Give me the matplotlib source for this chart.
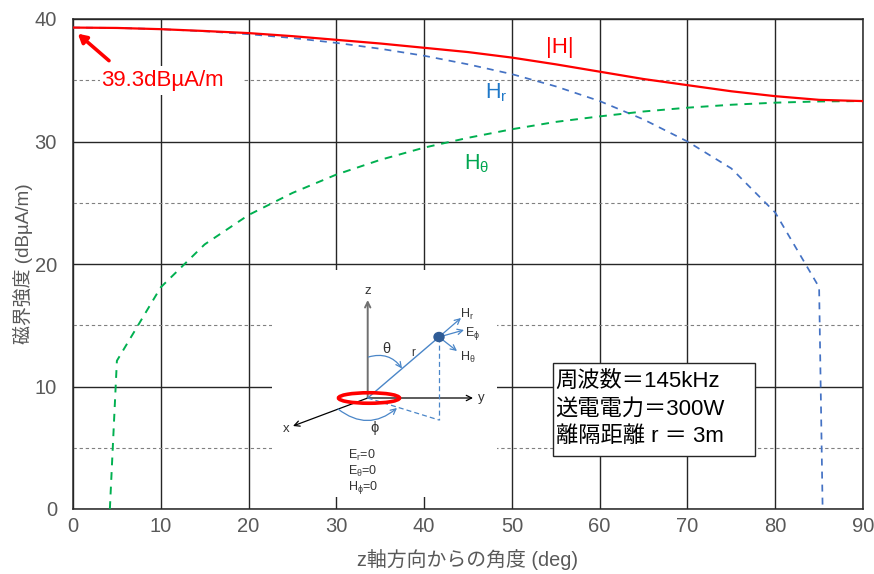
import numpy as np
import matplotlib
matplotlib.use('Agg')
import matplotlib.pyplot as plt
from matplotlib.patches import Ellipse, FancyArrowPatch, Rectangle

plt.rcParams['font.family'] = ['Liberation Sans', 'Noto Sans CJK JP', 'DejaVu Sans']
plt.rcParams['mathtext.fontset'] = 'custom'
plt.rcParams['mathtext.rm'] = 'Liberation Sans'

angle_h = [0, 5, 10, 15, 20, 25, 30, 35, 40, 45, 50, 55, 60, 65, 70, 75, 80, 85, 90]
h_total = [39.3, 39.27, 39.17, 39.02, 38.85, 38.6, 38.3, 38.0, 37.65, 37.3, 36.85, 36.3,
           35.7, 35.1, 34.6, 34.1, 33.7, 33.4, 33.3]

angle_r = [0, 5, 10, 15, 20, 25, 30, 35, 40, 45, 50, 55, 60, 65, 70, 75, 80, 85, 85.4]
h_r = [39.3, 39.27, 39.17, 39.0, 38.76, 38.45, 38.05, 37.57, 37.0, 36.3, 35.5, 34.5,
       33.3, 31.8, 30.0, 27.8, 24.2, 18.1, 0]

angle_t = [4.2, 5, 10, 15, 20, 25, 30, 35, 40, 45, 50, 55, 60, 65, 70, 75, 80, 85, 90]
h_t = [0, 12.1, 18.1, 21.6, 24.0, 25.8, 27.3, 28.5, 29.5, 30.3, 31.0, 31.6,
       32.05, 32.45, 32.76, 33.0, 33.17, 33.27, 33.3]

x_ticks = [0, 10, 20, 30, 40, 50, 60, 70, 80, 90]
y_ticks = [0, 10, 20, 30, 40]
y_minor = [5, 15, 25, 35]

W, H = 874, 574
fig = plt.figure(figsize=(W / 100, H / 100), dpi=100)
ax = fig.add_axes([73 / W, 1 - 509 / H, 790 / W, 490 / H])

ax.set_xlim(0, 90)
ax.set_ylim(0, 40)
ax.set_xticks(x_ticks)
ax.set_yticks(y_ticks)
ax.set_yticks(y_minor, minor=True)
ax.tick_params(which='both', length=0)
ax.tick_params(axis='both', labelsize=14.5, labelcolor='#595959')
ax.tick_params(axis='x', pad=6)
ax.tick_params(axis='y', pad=11.5)
ax.grid(True, which='major', color='#262626', lw=1.0, zorder=1)
ax.grid(True, which='minor', axis='y', color='#808080', lw=0.8, ls=(0, (3, 2.5)), zorder=1)
ax.set_axisbelow(True)
for s in ax.spines.values():
    s.set_color('#262626')
    s.set_linewidth(1.1)
ax.set_xlabel('z軸方向からの角度 (deg)', fontsize=14.3, color='#595959', labelpad=9)
ax.set_ylabel('磁界強度 (dBµA/m)', fontsize=13.6, color='#595959', labelpad=1.5)

ax.plot(angle_r, h_r, color='#4472C4', lw=1.25, ls=(0, (4, 3.5)), zorder=3)
ax.plot(angle_t, h_t, color='#00B050', lw=1.4, ls=(0, (4, 3.5)), zorder=3)
ax.plot(angle_h, h_total, color='#FF0000', lw=1.6, zorder=4)

ax.text(55.5, 37.7, '|H|', color='#FF0000', fontsize=16, ha='center', va='center')
ax.text(48.2, 34.0, 'H$_{\\mathrm{r}}$', color='#1F78C8', fontsize=15.5, ha='center', va='center')
ax.text(46.0, 28.2, 'H$_{\\mathrm{θ}}$', color='#00A651', fontsize=15.5, ha='center', va='center')

ax.add_patch(Rectangle((3.1, 33.8), 16.3, 2.4, fc='white', ec='none', zorder=2))
ax.text(10.2, 35.0, '39.3dBµA/m', color='#FF0000', fontsize=16, ha='center', va='center', zorder=5)
ax.annotate('', xy=(0.55, 38.8), xytext=(4.1, 36.6), zorder=6,
            arrowprops=dict(arrowstyle='-|>,head_length=0.5,head_width=0.28', color='#FF0000', lw=2.6,
                            shrinkA=0, shrinkB=0))

# loop antenna sketch, white panel over the grid, pixel coordinates of the sketch
sk = fig.add_axes([272 / W, 1 - 497 / H, 225 / W, 227 / H], zorder=5)
sk.set_xlim(272, 497)
sk.set_ylim(497, 270)
sk.axis('off')
sk.add_patch(Rectangle((272, 270), 225, 227, fc='white', ec='none', zorder=0))


def arrow(p0, p1, color='black', lw=0.9, rad=0.0, head=6, style='->'):
    sk.add_patch(FancyArrowPatch(p0, p1, arrowstyle=style, mutation_scale=head * 1.6, color=color, lw=lw,
                                 shrinkA=0, shrinkB=0, connectionstyle='arc3,rad=%g' % rad))


blue = '#4A86C8'
arrow((367.7, 398), (367.7, 300), color='#707070', lw=1.4)
arrow((367.7, 398), (473, 398))
arrow((367.7, 398), (293, 426))
sk.plot([367.7, 439], [398, 337], color=blue, lw=1.0)
sk.plot([367.7, 439], [398, 420], color=blue, lw=0.9, ls=(0, (4, 2.5)))
sk.plot([439, 439], [337, 420], color=blue, lw=0.9, ls=(0, (4, 2.5)))
arrow((439, 337), (461, 318), color=blue)
arrow((439, 337), (464, 330), color=blue)
arrow((439, 337), (457, 351), color=blue)
arrow((368.5, 357), (402, 368.5), color=blue, rad=-0.35, lw=0.9)
arrow((338, 409), (397, 408), color=blue, rad=0.4, lw=0.9)
sk.add_patch(Ellipse((439, 337), 10, 9, fc='#2F5C96', ec='#2F5C96', zorder=4))
sk.add_patch(Ellipse((369, 398), 61, 10.5, fc='none', ec='#FF0000', lw=2.6, zorder=4))

small = '#333333'
sk.text(367.5, 291, 'z', fontsize=9.5, color=small, ha='center', va='center')
sk.text(481, 398, 'y', fontsize=9.5, color=small, ha='center', va='center')
sk.text(286, 429, 'x', fontsize=9.5, color=small, ha='center', va='center')
sk.text(386.5, 349, 'θ', fontsize=10.5, color=small, ha='center', va='center')
sk.text(374.5, 428, 'ϕ', fontsize=10.5, color=small, ha='center', va='center')
sk.text(413, 353, 'r', fontsize=8.5, color=small, ha='center', va='center')
sk.text(460, 314, 'H$_{\\mathrm{r}}$', fontsize=9, color=small, ha='left', va='center')
sk.text(465, 333, 'E$_{\\mathrm{ϕ}}$', fontsize=9, color=small, ha='left', va='center')
sk.text(460, 357, 'H$_{\\mathrm{θ}}$', fontsize=9, color=small, ha='left', va='center')
sk.text(348, 455, 'E$_{\\mathrm{r}}$=0', fontsize=9, color=small, ha='left', va='center')
sk.text(348, 471, 'E$_{\\mathrm{θ}}$=0', fontsize=9, color=small, ha='left', va='center')
sk.text(348, 487, 'H$_{\\mathrm{ϕ}}$=0', fontsize=9, color=small, ha='left', va='center')

# condition box
box_text = '周波数＝145kHz\n送電電力＝300W\n離隔距離 r ＝ 3m'
fig.patches.append(Rectangle((553 / W, 1 - 456 / H), 202 / W, 93 / H, transform=fig.transFigure,
                             fc='white', ec='#262626', lw=1.0, zorder=6))
fig.text(555.5 / W, 1 - 409 / H, box_text, fontsize=16, color='black', ha='left', va='center',
         linespacing=1.42, zorder=7)

plt.savefig('out.png', dpi=100)
